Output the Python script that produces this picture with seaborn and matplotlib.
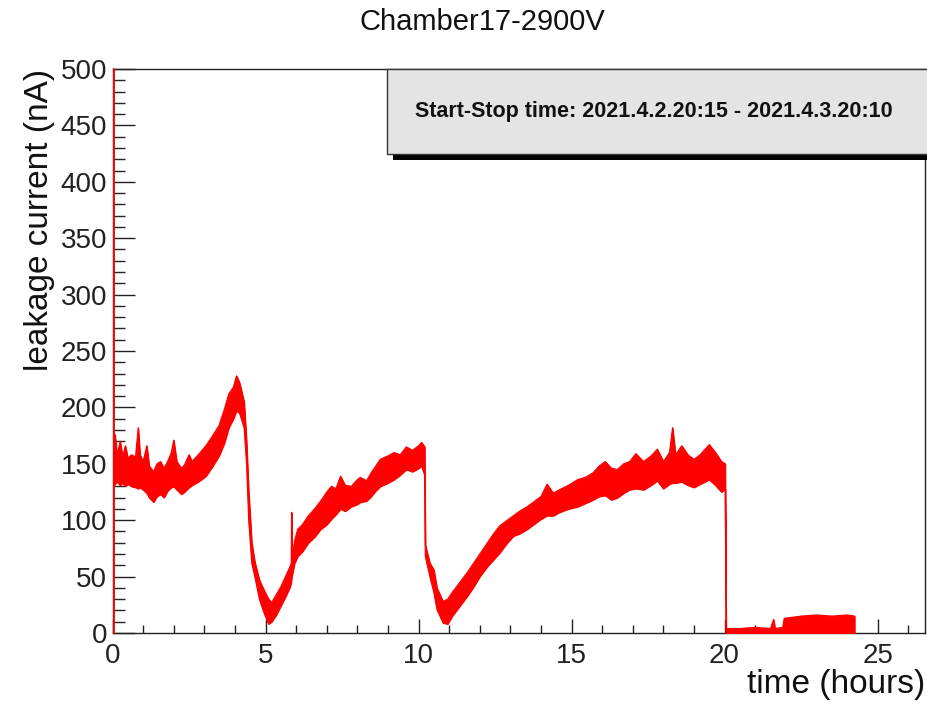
import numpy as np
import pandas as pd
import matplotlib
matplotlib.use("Agg")
import matplotlib.pyplot as plt
from matplotlib.patches import Rectangle
import seaborn as sns

# envelope of the (very noisy) leakage current trace
time_h = [0.00, 0.08, 0.15, 0.25, 0.33, 0.42, 0.50, 0.62, 0.75, 0.84, 0.90, 1.00,
          1.12, 1.20, 1.34, 1.45, 1.57, 1.68, 1.80, 1.92, 2.00, 2.10, 2.25, 2.35,
          2.50, 2.60, 2.80, 3.05, 3.25, 3.48, 3.65, 3.80, 3.95, 4.05, 4.15, 4.30,
          4.38, 4.45, 4.55, 4.65, 4.80, 4.95, 5.10, 5.20, 5.35, 5.50, 5.65, 5.80,
          5.84, 5.85, 5.86, 5.95, 6.05, 6.20, 6.40, 6.60, 6.80, 7.00, 7.15, 7.30,
          7.45, 7.60, 7.80, 8.00, 8.10, 8.30, 8.45, 8.60, 8.75, 9.00, 9.20, 9.40,
          9.60, 9.80, 10.00, 10.10, 10.20, 10.22, 10.37, 10.50, 10.60, 10.80, 10.95, 11.10,
          11.35, 11.60, 11.80, 12.00, 12.25, 12.45, 12.65, 12.90, 13.10, 13.30, 13.55, 13.80,
          14.00, 14.20, 14.40, 14.60, 14.90, 15.20, 15.45, 15.70, 15.90, 16.10, 16.30, 16.50,
          16.70, 16.90, 17.10, 17.35, 17.60, 17.80, 18.00, 18.20, 18.30, 18.40, 18.60, 18.80,
          19.00, 19.20, 19.50, 19.70, 19.90, 20.02, 20.05, 20.50, 21.00, 21.50, 21.60, 21.65,
          21.90, 21.95, 22.50, 23.00, 23.50, 24.00, 24.25]
current_low = [130, 132, 134, 131, 133, 130, 132, 130, 129, 128, 129, 127,
               124, 120, 116, 121, 123, 120, 126, 129, 130, 127, 123, 125,
               129, 131, 134, 139, 147, 157, 168, 182, 190, 197, 195, 182,
               150, 100, 62, 50, 30, 18, 8, 10, 16, 24, 32, 41,
               45, 48, 50, 62, 68, 72, 80, 85, 92, 96, 101, 105,
               110, 108, 112, 114, 116, 117, 121, 126, 130, 133, 136, 140,
               145, 143, 146, 148, 140, 68, 50, 36, 21, 9, 8, 15,
               24, 33, 41, 50, 59, 65, 71, 80, 86, 88, 92, 97,
               101, 104, 104, 107, 110, 112, 115, 118, 121, 122, 118, 120,
               124, 127, 128, 127, 131, 135, 128, 132, 133, 133, 134, 131,
               129, 132, 136, 131, 125, 128, 0, 0, 0, 0, 0, 0,
               0, 0, 0, 0, 0, 0, 0]
current_high = [174, 176, 158, 170, 156, 166, 155, 158, 156, 182, 158, 152,
                166, 148, 143, 150, 152, 146, 152, 160, 171, 152, 146, 149,
                158, 152, 158, 166, 174, 184, 198, 212, 218, 228, 222, 205,
                170, 125, 80, 63, 47, 38, 30, 27, 34, 41, 50, 59,
                62, 107, 64, 82, 92, 96, 104, 110, 117, 125, 130, 128,
                139, 131, 130, 136, 138, 135, 142, 148, 154, 157, 160, 158,
                165, 162, 166, 169, 165, 78, 62, 56, 40, 28, 30, 36,
                45, 54, 62, 70, 80, 88, 95, 100, 104, 108, 112, 117,
                121, 132, 124, 127, 131, 136, 138, 142, 148, 152, 146, 145,
                150, 152, 159, 152, 157, 163, 152, 160, 182, 158, 166, 158,
                154, 158, 167, 160, 152, 150, 4, 4, 5, 4, 12, 4,
                5, 13, 15, 16, 15, 16, 15]

# the trace starts off-scale at t=0
start_time = [0.04, 0.04]
start_current = [0.0, 500.0]

title = "Chamber17-2900V"
box_text = "Start-Stop time: 2021.4.2.20:15 - 2021.4.3.20:10"

df = pd.DataFrame({"t": time_h, "lo": current_low, "hi": current_high})

sns.set_theme(style="ticks")
plt.rcParams["font.family"] = ["Liberation Sans", "DejaVu Sans"]

W, H = 927, 706
fig = plt.figure(figsize=(W / 100, H / 100), dpi=100)
ax = fig.add_axes([112.5 / W, 1 - 633 / H, (925 - 112.5) / W, (633 - 69) / H])

red = "#ff0000"
ax.fill_between(df["t"], df["lo"], df["hi"], color=red, lw=0.8, zorder=3)
sns.lineplot(data=df, x="t", y="hi", color=red, lw=0.8, ax=ax, sort=False, estimator=None, zorder=3)
sns.lineplot(data=df, x="t", y="lo", color=red, lw=0.8, ax=ax, sort=False, estimator=None, zorder=3)
ax.plot(start_time, start_current, color=red, lw=1.3, zorder=4, clip_on=False)

ax.set_xlim(0, 26.55)
ax.set_ylim(0, 500)
ax.set_xticks([0, 5, 10, 15, 20, 25])
ax.set_xticks(np.arange(0, 27, 1), minor=True)
ax.set_yticks(np.arange(0, 501, 50))
ax.set_yticks(np.arange(0, 501, 10), minor=True)

ax.tick_params(axis="both", which="both", direction="in", top=False, right=False,
               colors="#222222", labelsize=20, width=1)
ax.tick_params(axis="x", which="major", length=10, pad=7)
ax.tick_params(axis="x", which="minor", length=6)
ax.tick_params(axis="y", which="major", length=16, pad=4)
ax.tick_params(axis="y", which="minor", length=8.5)
for s in ax.spines.values():
    s.set_color("#222222")
    s.set_linewidth(1)
    s.set_visible(True)

ax.set_xlabel("time (hours)", fontsize=24, loc="right", labelpad=0, color="#111111")
ax.set_ylabel("leakage current (nA)", fontsize=24, loc="top", labelpad=4, color="#111111")

fig.text(482 / W, 1 - 22 / H, title, ha="center", va="center", fontsize=21, color="#111111")

# stats-like box with drop shadow, as ROOT draws it
bx0, by0, bx1, by1 = 387, 69, 935, 154
fig.patches.append(Rectangle(((bx0 + 6) / W, 1 - (by1 + 6) / H), (bx1 - bx0) / W, (by1 - by0) / H,
                             transform=fig.transFigure, facecolor="black", edgecolor="none", zorder=5))
fig.patches.append(Rectangle((bx0 / W, 1 - by1 / H), (bx1 - bx0) / W, (by1 - by0) / H,
                             transform=fig.transFigure, facecolor="#e4e4e4", edgecolor="#333333",
                             lw=1, zorder=6))
fig.text(654 / W, 1 - 111 / H, box_text, ha="center", va="center", fontsize=15.5,
         fontweight="bold", color="#111111", zorder=7)

fig.savefig("out.png", dpi=100)
